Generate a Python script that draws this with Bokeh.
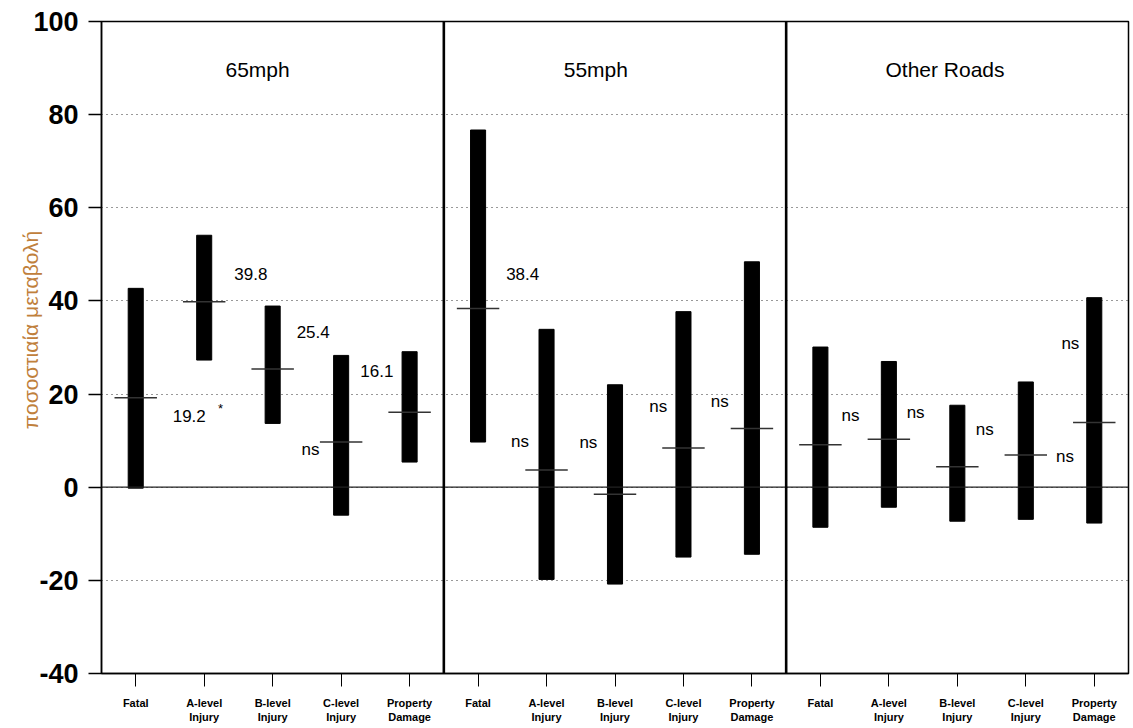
import math
from bokeh.plotting import figure
from bokeh.models import FixedTicker, Span, Label, ColumnDataSource
from bokeh.core.properties import value
from bokeh.embed import file_html
from bokeh.resources import INLINE

# ---- data ----
groups = ["65mph", "55mph", "Other Roads"]
severity = ["Fatal", "A-level\nInjury", "B-level\nInjury", "C-level\nInjury", "Property\nDamage"]

low_65 = [-0.2, 27.3, 13.7, -6.0, 5.4]
high_65 = [42.7, 54.1, 38.9, 28.3, 29.1]
mean_65 = [19.2, 39.8, 25.4, 9.7, 16.1]

low_55 = [9.7, -19.8, -20.8, -15.0, -14.4]
high_55 = [76.7, 33.9, 22.0, 37.7, 48.4]
mean_55 = [38.4, 3.7, -1.5, 8.4, 12.6]

low_other = [-8.6, -4.3, -7.3, -6.9, -7.7]
high_other = [30.1, 27.0, 17.6, 22.6, 40.7]
mean_other = [9.1, 10.3, 4.4, 6.9, 13.9]

y_ticks = [-40, -20, 0, 20, 40, 60, 80, 100]
y_tick_labels = ["-40", "-20", "0", "20", "40", "60", "80", "100"]
y_title = "ποσοστιαία μεταβολή"

annot_text = ["19.2", "39.8", "25.4", "ns", "16.1",
              "38.4", "ns", "ns", "ns", "ns",
              "ns", "ns", "ns", "ns", "ns"]
annot_x = [0.54, 1.44, 2.35, 2.42, 3.28,
           5.41, 5.48, 6.48, 7.50, 8.40,
           10.31, 11.26, 12.27, 13.44, 13.52]
annot_y = [15.2, 45.7, 33.3, 8.2, 24.9,
           45.7, 9.9, 9.7, 17.4, 18.5,
           15.5, 16.1, 12.5, 6.7, 30.9]

title_x = [1.78, 6.72, 11.82]
title_y = 89.8

# ---- build table ----
lows = low_65 + low_55 + low_other
highs = high_65 + high_55 + high_other
means = mean_65 + mean_55 + mean_other
xs = [gi * len(severity) + si for gi in range(len(groups)) for si in range(len(severity))]
labels = {i: severity[i % len(severity)] for i in xs}

src = ColumnDataSource(dict(
    x=xs, low=lows, high=highs, mean=means,
    x0=[x - 0.31 for x in xs], x1=[x + 0.31 for x in xs],
))

FONT = "Liberation Sans"

p = figure(width=1131, height=726, output_backend="svg", toolbar_location=None,
           x_range=(-0.5, len(xs) - 0.5), y_range=(-40, 100),
           min_border_left=101, min_border_right=3, min_border_top=21, min_border_bottom=53,
           background_fill_color="white", border_fill_color="white")

p.outline_line_color = "black"
p.outline_line_width = 1.5
p.xgrid.visible = False
p.ygrid.grid_line_color = "#333333"
p.ygrid.grid_line_dash = "1 4"
p.ygrid.grid_line_width = 1.2

p.yaxis.ticker = FixedTicker(ticks=y_ticks)
p.yaxis.major_label_overrides = dict(zip(y_ticks, y_tick_labels))
p.yaxis.major_label_text_font = FONT
p.yaxis.major_label_text_font_size = "27px"
p.yaxis.major_label_text_font_style = "bold"
p.yaxis.major_label_text_color = "black"
p.yaxis.major_tick_out = 13
p.yaxis.major_tick_in = 0
p.yaxis.minor_tick_out = 0
p.yaxis.minor_tick_in = 0
p.yaxis.major_label_standoff = 10
p.yaxis.axis_line_width = 1.5
p.yaxis.major_tick_line_width = 1.5
# leading no-break spaces nudge the (vertically centred) title a little upward
p.yaxis.axis_label = "\u00a0" * 6 + y_title
p.yaxis.axis_label_text_font = FONT
p.yaxis.axis_label_text_font_size = "21px"
p.yaxis.axis_label_text_font_style = "normal"
p.yaxis.axis_label_text_color = "#c0803c"
p.yaxis.axis_label_standoff = -12

p.xaxis.ticker = FixedTicker(ticks=xs)
p.xaxis.major_label_overrides = labels
p.xaxis.major_label_text_font = FONT
p.xaxis.major_label_text_font_size = "11px"
p.xaxis.major_label_text_font_style = "bold"
p.xaxis.major_label_text_color = "black"
p.xaxis.major_tick_out = 13
p.xaxis.major_tick_in = 0
p.xaxis.minor_tick_out = 0
p.xaxis.minor_tick_in = 0
p.xaxis.major_label_standoff = 10
p.xaxis.axis_line_width = 1.5

# zero line and panel dividers
p.add_layout(Span(location=0, dimension="width", line_color="#222222", line_width=1.3))
for d in [len(severity) - 0.5, 2 * len(severity) - 0.5]:
    p.add_layout(Span(location=d, dimension="height", line_color="black", line_width=2.6))

# bars and mean marks
p.vbar(x="x", width=0.22, bottom="low", top="high", source=src,
       fill_color="black", line_color="black")
p.segment(x0="x0", x1="x1", y0="mean", y1="mean", source=src,
          line_color="#333333", line_width=1.5)

# annotations
p.text(x=annot_x, y=annot_y, text=annot_text, text_font=value(FONT),
       text_font_size="17px", text_align="left", text_baseline="middle", text_color="black")
p.add_layout(Label(x=1.2, y=16.8, text="*", text_font=FONT, text_font_size="13px",
                   text_align="left", text_baseline="middle", text_color="black"))

p.text(x=title_x, y=[title_y] * len(groups), text=groups, text_font=value(FONT),
       text_font_size="21px", text_align="center", text_baseline="middle", text_color="black")

open("out.html", "w").write(file_html(p, INLINE))
